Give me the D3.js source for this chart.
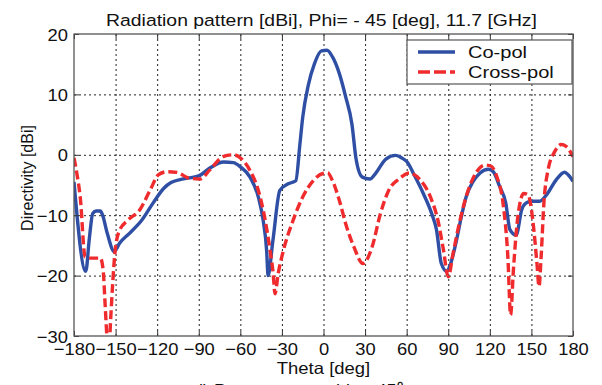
<!DOCTYPE html>
<html>
<head>
<meta charset="utf-8">
<script src="https://cdn.jsdelivr.net/npm/d3@7"></script>
<style>
  html, body { margin: 0; padding: 0; background: #fff; }
  svg { display: block; }
  text { font-family: "Liberation Sans", Arial, sans-serif; fill: #111; }
</style>
</head>
<body>
<svg id="chart" width="602" height="385"></svg>
<script>
// ---- data ----
const titleText = "Radiation pattern [dBi], Phi= - 45 [deg], 11.7 [GHz]";
const xLabel = "Theta [deg]";
const yLabel = "Directivity [dBi]";
const captionText = "d) Pattern cut at phi = -45\u2070";
const seriesNames = ["Co-pol", "Cross-pol"];
const xTicks = [-180, -150, -120, -90, -60, -30, 0, 30, 60, 90, 120, 150, 180];
const yTicks = [-30, -20, -10, 0, 10, 20];

const coTheta = [-180, -171.5, -169, -166.5, -164, -161, -159.5, -156, -151, -147, -140, -131, -123, -115, -110, -101, -90, -82, -72, -65, -60, -53, -47, -43.5, -41, -40, -36.5, -31.5, -25.5, -20, -17, -15, -11, -6.5, -1.5, 2.5, 6.5, 11.5, 16, 20.5, 23.5, 28, 33.5, 37.5, 45, 52, 57, 60, 66, 72, 78, 81.5, 85, 89, 91, 96, 99.5, 103, 108, 113, 119, 122.5, 127, 131.5, 134.5, 139, 143, 146, 150, 156, 161, 168, 174, 176.5, 180];
const coVal = [-4.5, -19.3, -14, -9.7, -9.3, -9.3, -9.9, -13, -16, -14.6, -13, -10.8, -8, -5.5, -4.6, -4, -3.5, -2.2, -1.2, -1.3, -2, -3.7, -7, -10.9, -15.9, -20, -14.2, -5.9, -4.8, -4.3, 1.8, 6.2, 11.5, 15.1, 17.2, 17.3, 16.2, 13.4, 9.6, 5.1, -0.7, -3.7, -4, -3.1, -0.7, -0.1, -0.6, -1.1, -3.6, -6.4, -9.7, -12.4, -18, -19.3, -18.5, -14.1, -10.2, -6.9, -4.4, -3, -2.4, -2.8, -5.2, -8, -12.4, -13.3, -9.1, -8, -7.7, -7.7, -6.6, -4.1, -2.9, -3.3, -4.4];

const xpTheta = [-180, -178, -175.5, -172, -168.5, -161, -159, -157.5, -156, -155, -153.5, -152, -150.5, -147.5, -141, -132.5, -125, -119, -113, -106, -96.5, -89, -82, -72.5, -65, -59.5, -53, -47, -42, -38.5, -36.3, -35, -32.7, -29, -22, -15, -7.5, -0.5, 3, 6.5, 11.5, 16, 22, 28.5, 35, 41, 47, 54.5, 62, 69.5, 77, 83, 86.5, 90, 93.5, 98.5, 104.5, 110.5, 116.5, 121, 125, 129.5, 133, 135, 137, 140.5, 144.5, 147.5, 151, 154, 155.5, 157, 159, 162, 167, 171.5, 175, 180];
const xpVal = [-0.5, -3, -7, -16.9, -17.1, -17.1, -19, -25, -31, -33, -27, -21, -16.3, -12.7, -10.8, -9.1, -5.8, -3.3, -2.8, -2.9, -3.9, -4, -2.5, -0.3, 0, -0.6, -2.6, -5.9, -10.9, -15.9, -19.7, -23, -19.7, -15.9, -10.9, -7, -4.3, -3.1, -3, -4.3, -7.6, -11.4, -15.3, -18, -15.3, -9.8, -5.9, -4, -3, -4.1, -6.9, -11.3, -15.7, -20.2, -16.3, -10.8, -5.8, -2.8, -1.7, -1.9, -3.6, -8, -16.9, -26.5, -19.1, -9.7, -6.4, -6.6, -10.8, -18, -21.8, -16.9, -8, -2.5, 0.6, 1.7, 1.4, -0.3];

// ---- layout ----
const L = 74, R = 573, T = 34, B = 336;
const blue = "#2f4fa5", red = "#ef2b2d";
const sx = 1.12; // horizontal glyph stretch seen in the reference

const svg = d3.select("#chart");
const x = d3.scaleLinear().domain([-180, 180]).range([L, R]);
const y = d3.scaleLinear().domain([-30, 20]).range([B, T]);

// grid
const grid = svg.append("g");
grid.append("g").attr("transform", `translate(0,${B})`)
  .call(d3.axisBottom(x).tickValues(xTicks.slice(1, -1)).tickSize(-(B - T)).tickFormat(""))
  .call(g => g.select(".domain").remove());
grid.append("g").attr("transform", `translate(${L},0)`)
  .call(d3.axisLeft(y).tickValues(yTicks.slice(1, -1)).tickSize(-(R - L)).tickFormat(""))
  .call(g => g.select(".domain").remove());
grid.selectAll("line").attr("stroke", "#222").attr("stroke-width", 1).attr("stroke-dasharray", "2,3");

// clip
svg.append("clipPath").attr("id", "clip").append("rect")
  .attr("x", L).attr("y", T).attr("width", R - L).attr("height", B - T);

const line = d3.line().x(d => x(d[0])).y(d => y(d[1])).curve(d3.curveMonotoneX);
const co = coTheta.map((t, i) => [t, coVal[i]]);
const xp = xpTheta.map((t, i) => [t, xpVal[i]]);

svg.append("path").datum(co).attr("clip-path", "url(#clip)")
  .attr("d", line).attr("fill", "none").attr("stroke", blue)
  .attr("stroke-width", 3.4).attr("stroke-linejoin", "round");
svg.append("path").datum(xp).attr("clip-path", "url(#clip)")
  .attr("d", line).attr("fill", "none").attr("stroke", red)
  .attr("stroke-width", 3.4).attr("stroke-dasharray", "9,4");

// axes (inward ticks on all sides)
const axB = svg.append("g").attr("transform", `translate(0,${B})`)
  .call(d3.axisBottom(x).tickValues(xTicks).tickSize(-5).tickPadding(7).tickFormat(d3.format("d")));
const axT = svg.append("g").attr("transform", `translate(0,${T})`)
  .call(d3.axisTop(x).tickValues(xTicks).tickSize(-5).tickFormat(""));
const axL = svg.append("g").attr("transform", `translate(${L},0)`)
  .call(d3.axisLeft(y).tickValues(yTicks).tickSize(-5).tickPadding(5).tickFormat(d3.format("d")));
const axR = svg.append("g").attr("transform", `translate(${R},0)`)
  .call(d3.axisRight(y).tickValues(yTicks).tickSize(-5).tickFormat(""));
[axB, axT, axL, axR].forEach(a => {
  a.select(".domain").remove();
  a.selectAll("line").attr("stroke", "#333").attr("stroke-width", 1);
  a.selectAll("text").attr("font-family", "Liberation Sans, Arial, sans-serif")
    .attr("font-size", 17).attr("fill", "#111");
});
axB.selectAll("text").attr("transform", `scale(1.08,1)`);
axL.selectAll("text").attr("dy", "0.36em").attr("transform", `scale(1.08,1)`)
  .attr("x", -6 / 1.08);

svg.append("rect").attr("x", L).attr("y", T).attr("width", R - L).attr("height", B - T)
  .attr("fill", "none").attr("stroke", "#555").attr("stroke-width", 1.3);

// title & labels
svg.append("text").attr("x", 0).attr("y", 26).attr("text-anchor", "middle")
  .attr("font-size", 17).attr("transform", `translate(${(L + R) / 2 - 2},0) scale(1.14,1)`)
  .text(titleText);
svg.append("text").attr("text-anchor", "middle").attr("font-size", 16.5)
  .attr("transform", `translate(${(L + R) / 2},374) scale(${sx},1)`).text(xLabel);
svg.append("text").attr("text-anchor", "middle").attr("font-size", 16)
  .attr("transform", `translate(33,178) rotate(-90)`).text(yLabel);
svg.append("text").attr("x", 193).attr("y", 397).attr("font-size", 18)
  .attr("font-family", "Liberation Serif, serif").text(captionText);

// legend
const lg = svg.append("g");
lg.append("rect").attr("x", 407).attr("y", 40).attr("width", 165).attr("height", 44)
  .attr("fill", "#fff").attr("stroke", "#555").attr("stroke-width", 1.2);
const rows = [{ name: seriesNames[0], color: blue, dash: null, yy: 52 },
              { name: seriesNames[1], color: red, dash: "12,4", yy: 72 }];
rows.forEach(r => {
  lg.append("line").attr("x1", 418).attr("x2", 455).attr("y1", r.yy).attr("y2", r.yy)
    .attr("stroke", r.color).attr("stroke-width", 3.4).attr("stroke-dasharray", r.dash);
  lg.append("text").attr("font-size", 17)
    .attr("transform", `translate(468,${r.yy + 6}) scale(1.18,1)`).text(r.name);
});
</script>
</body>
</html>
